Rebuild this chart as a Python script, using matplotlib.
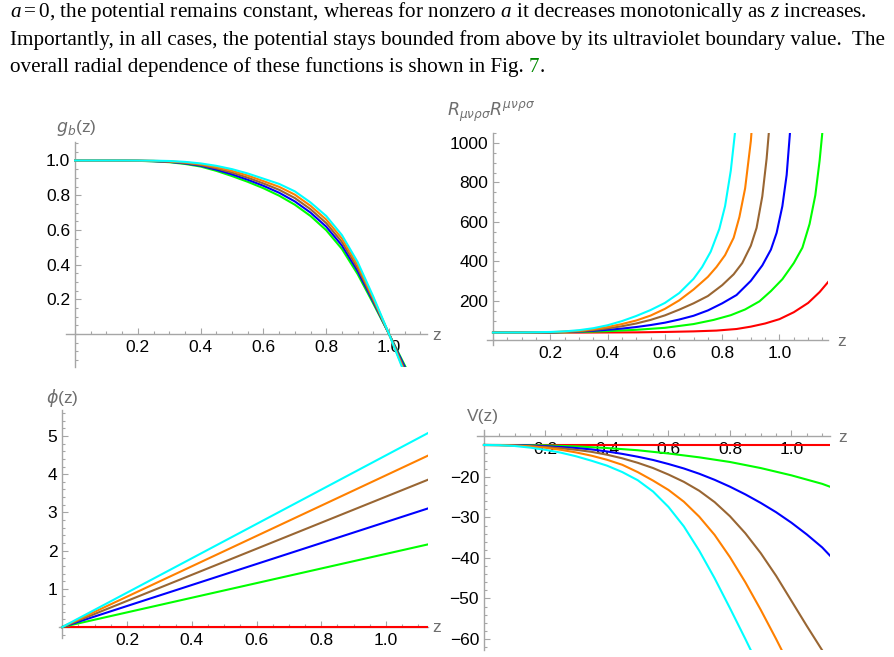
import matplotlib
matplotlib.use("Agg")
import matplotlib.pyplot as plt
from matplotlib.ticker import FixedLocator, MultipleLocator

W, H = 894, 657

# curve colours, in drawing order (a = 0 first)
names = ["red", "green", "blue", "brown", "orange", "cyan"]
colors = ["#ff0000", "#00ff00", "#0000ff", "#996633", "#ff8000", "#00ffff"]

# ---- g_b(z) ----
gb_z = [0, 0.05, 0.1, 0.15, 0.2, 0.25, 0.3, 0.35, 0.4, 0.45, 0.5, 0.55, 0.6, 0.65, 0.7,
        0.75, 0.8, 0.85, 0.9, 0.95, 1.0, 1.05, 1.1]
gb_green = [1.0, 1.0, 1.0, 0.9995, 0.998, 0.995, 0.99, 0.98, 0.965, 0.94, 0.91, 0.877, 0.84, 0.797, 0.745,
            0.68, 0.598, 0.49, 0.345, 0.175, 0.0, -0.18, -0.36]
gb_blue = [1.0, 1.0, 1.0, 0.9996, 0.9984, 0.996, 0.992, 0.983, 0.9695, 0.947, 0.92, 0.889, 0.854, 0.814, 0.764,
           0.6995, 0.6185, 0.51, 0.3625, 0.185, 0.0, -0.19, -0.39]
gb_brown = [1.0, 1.0, 1.0, 0.9997, 0.9988, 0.997, 0.9935, 0.986, 0.974, 0.9545, 0.93, 0.901, 0.8675, 0.831, 0.7835,
            0.719, 0.639, 0.53, 0.38, 0.195, 0.0, -0.205, -0.415]
gb_orange = [1.0, 1.0, 1.0, 0.9999, 0.9992, 0.998, 0.995, 0.989, 0.9785, 0.962, 0.94, 0.913, 0.881, 0.848, 0.803,
             0.7385, 0.6595, 0.55, 0.3975, 0.205, 0.0, -0.22, -0.44]
gb_cyan = [1.0, 1.0, 1.0, 1.0, 0.9995, 0.999, 0.997, 0.992, 0.983, 0.969, 0.95, 0.925, 0.895, 0.865, 0.822,
           0.758, 0.68, 0.57, 0.415, 0.215, 0.0, -0.23, -0.47]

# ---- R_{mu nu rho sigma} R^{mu nu rho sigma} ----
R_red_z = [0, 0.3, 0.5, 0.6, 0.7, 0.78, 0.85, 0.9, 0.95, 1.0, 1.05, 1.1, 1.14, 1.175]
R_red = [40, 40, 41, 43, 46, 50, 58, 70, 86, 108, 143, 190, 245, 305]
R_green_z = [0, 0.2, 0.3, 0.4, 0.5, 0.6, 0.7, 0.77, 0.83, 0.88, 0.93, 0.97, 1.01, 1.05, 1.08,
             1.105, 1.125, 1.14, 1.152, 1.165]
R_green = [40, 40.5, 43, 47, 54, 64, 83, 104, 128, 157, 198, 250, 310, 392, 470,
           590, 735, 910, 1090, 1350]
R_blue_z = [0, 0.1, 0.2, 0.3, 0.35, 0.4, 0.45, 0.5, 0.55, 0.6, 0.65, 0.7, 0.75, 0.8, 0.85,
            0.9, 0.94, 0.97, 0.99, 1.01, 1.025, 1.037, 1.05]
R_blue = [40, 40.1, 41, 45, 49, 54, 60, 68, 78, 90, 106, 125, 152, 188, 230,
          302, 380, 460, 545, 680, 838, 1060, 1350]
R_brown_z = [0, 0.1, 0.2, 0.3, 0.35, 0.4, 0.45, 0.5, 0.55, 0.6, 0.65, 0.7, 0.75, 0.8, 0.84,
             0.87, 0.9, 0.92, 0.94, 0.955, 0.965, 0.975]
R_brown = [40, 40.2, 41.5, 46, 53, 61, 72, 86, 104, 127, 156, 188, 225, 280, 335,
           392, 480, 570, 730, 920, 1090, 1300]
R_orange_z = [0, 0.1, 0.2, 0.25, 0.3, 0.35, 0.4, 0.45, 0.5, 0.55, 0.6, 0.65, 0.7, 0.75, 0.78,
              0.81, 0.84, 0.86, 0.88, 0.9, 0.915]
R_orange = [40, 40.3, 42, 44.5, 49, 57, 68, 83, 101, 126, 160, 203, 258, 322, 372,
            432, 520, 625, 770, 1010, 1300]
R_cyan_z = [0, 0.1, 0.2, 0.25, 0.3, 0.35, 0.4, 0.45, 0.5, 0.55, 0.6, 0.65, 0.7, 0.73, 0.76,
            0.79, 0.81, 0.83, 0.845, 0.86]
R_cyan = [40, 40.5, 43, 46, 52, 62, 77, 98, 124, 154, 190, 240, 312, 372, 450,
          565, 680, 860, 1057, 1300]

# ---- phi(z) ----
phi_z = [0, 1.128]
phi_red = [0, 0]
phi_green = [0, 2.16]
phi_blue = [0, 3.10]
phi_brown = [0, 3.85]
phi_orange = [0, 4.48]
phi_cyan = [0, 5.07]

# ---- V(z) ----
V_red_z = [0, 1.125]
V_red = [-12.1, -12.1]
V_green_z = [0, 0.1, 0.2, 0.3, 0.4, 0.5, 0.6, 0.7, 0.8, 0.9, 1.0, 1.1, 1.125]
V_green = [-12.1, -12.12, -12.2, -12.45, -12.85, -13.4, -14.2, -15.15, -16.3, -17.8, -19.6, -21.7, -22.4]
V_blue_z = [0, 0.05, 0.1, 0.15, 0.2, 0.25, 0.3, 0.35, 0.4, 0.45, 0.5, 0.55, 0.6, 0.65, 0.7,
            0.75, 0.8, 0.85, 0.9, 0.95, 1.0, 1.05, 1.1, 1.125]
V_blue = [-12.1, -12.11, -12.15, -12.25, -12.4, -12.6, -12.85, -13.2, -13.7, -14.3, -15.0, -15.8, -16.8, -17.9, -19.2,
          -20.7, -22.4, -24.3, -26.4, -28.7, -31.3, -34.2, -37.4, -39.4]
V_brown_z = [0, 0.05, 0.1, 0.15, 0.2, 0.25, 0.3, 0.35, 0.4, 0.45, 0.5, 0.55, 0.6, 0.65, 0.7,
             0.75, 0.8, 0.85, 0.9, 0.95, 1.0, 1.05, 1.1, 1.15]
V_brown = [-12.1, -12.13, -12.22, -12.4, -12.6, -12.9, -13.3, -13.8, -14.5, -15.4, -16.5, -17.8, -19.4, -21.2, -23.4,
           -26.2, -29.7, -33.9, -38.8, -44.4, -50.6, -56.8, -62.8, -69.0]
V_orange_z = [0, 0.05, 0.1, 0.15, 0.2, 0.25, 0.3, 0.35, 0.4, 0.45, 0.5, 0.55, 0.6, 0.65, 0.7,
              0.75, 0.8, 0.85, 0.9, 0.95, 1.0]
V_orange = [-12.1, -12.13, -12.25, -12.45, -12.8, -13.3, -13.95, -14.75, -15.75, -17.0, -18.8, -20.9, -23.2, -26.1, -29.8,
            -34.3, -39.8, -46.0, -52.8, -60.0, -67.5]
V_cyan_z = [0, 0.05, 0.1, 0.15, 0.2, 0.25, 0.3, 0.35, 0.4, 0.45, 0.5, 0.55, 0.6, 0.65, 0.7,
            0.75, 0.8, 0.85, 0.9]
V_cyan = [-12.1, -12.15, -12.35, -12.75, -13.3, -14.0, -14.9, -16.0, -17.2, -18.8, -20.8, -23.6, -27.4, -32.2, -38.2,
          -45.0, -52.4, -60.0, -67.8]

# paragraph above the figure
line1 = r"$a = 0$, the potential remains constant, whereas for nonzero $a$ it decreases monotonically as $z$ increases."
line2 = "Importantly, in all cases, the potential stays bounded from above by its ultraviolet boundary value.  The"
line3 = "overall radial dependence of these functions is shown in Fig."

AXIS_GRAY = "#a6a6a6"
LABEL_GRAY = "#6e6e6e"

plt.rcParams["font.family"] = ["Liberation Sans", "DejaVu Sans"]
plt.rcParams["mathtext.rm"] = "Liberation Serif"
plt.rcParams["mathtext.it"] = "Liberation Serif:italic"


def px_axes(fig, left, right, top, bottom, xlim, ylim, y0=0.0):
    ax = fig.add_axes([left / W, 1 - bottom / H, (right - left) / W, (bottom - top) / H])
    ax.set_xlim(*xlim)
    ax.set_ylim(*ylim)
    ax.patch.set_alpha(0)
    ax.spines["top"].set_visible(False)
    ax.spines["right"].set_visible(False)
    ax.spines["left"].set_position(("data", 0))
    ax.spines["bottom"].set_position(("data", y0))
    for s in ("left", "bottom"):
        ax.spines[s].set_color(AXIS_GRAY)
        ax.spines[s].set_linewidth(1.0)
    ax.tick_params(which="both", direction="in", color=AXIS_GRAY, labelsize=12.5, width=0.8)
    ax.tick_params(which="major", length=4.5)
    ax.tick_params(which="minor", length=2.5)
    ax.tick_params(axis="x", pad=4)
    ax.tick_params(axis="y", pad=3.5)
    ax.xaxis.set_major_locator(FixedLocator([0.2, 0.4, 0.6, 0.8, 1.0]))
    ax.xaxis.set_minor_locator(MultipleLocator(0.05))
    ax.xaxis.set_major_formatter(lambda v, p: f"{v:.1f}")
    return ax


def label(fig, x, y, s, **kw):
    fig.text(x / W, 1 - y / H, s, ha="center", va="center", color=LABEL_GRAY,
             fontsize=12.5, math_fontfamily="dejavusans", **kw)


fig = plt.figure(figsize=(W / 100, H / 100), dpi=100)

# g_b(z)
ax1 = px_axes(fig, 66, 426.7, 141.9, 367, (-0.029, 1.12), (-0.19, 1.107))
for c, y in zip(colors[1:], [gb_green, gb_blue, gb_brown, gb_orange, gb_cyan]):
    ax1.plot(gb_z, y, color=c, lw=1.5, zorder=3)
ax1.yaxis.set_major_locator(FixedLocator([0.2, 0.4, 0.6, 0.8, 1.0]))
ax1.yaxis.set_minor_locator(MultipleLocator(0.05))
ax1.yaxis.set_major_formatter(lambda v, p: f"{v:.1f}")
label(fig, 76, 128, r"$g_b$(z)")
label(fig, 437, 335, "z")

# curvature invariant
ax2 = px_axes(fig, 486.7, 828.2, 133.1, 345, (-0.022, 1.17), (-23, 1050))
R_sets = [(R_red_z, R_red), (R_green_z, R_green), (R_blue_z, R_blue),
          (R_brown_z, R_brown), (R_orange_z, R_orange), (R_cyan_z, R_cyan)]
for c, (zz, y) in zip(colors, R_sets):
    ax2.plot(zz, y, color=c, lw=1.5, zorder=3)
ax2.yaxis.set_major_locator(FixedLocator([200, 400, 600, 800, 1000]))
ax2.yaxis.set_minor_locator(MultipleLocator(50))
ax2.yaxis.set_major_formatter(lambda v, p: f"{v:.0f}")
label(fig, 491, 112, r"$R_{\mu\nu\rho\sigma}R^{\mu\nu\rho\sigma}$")
label(fig, 842, 341, "z")

# phi(z)
ax3 = px_axes(fig, 59, 427.5, 410, 638.1, (-0.01, 1.128), (-0.29, 5.68))
for c, y in zip(colors, [phi_red, phi_green, phi_blue, phi_brown, phi_orange, phi_cyan]):
    ax3.plot(phi_z, y, color=c, lw=1.5, zorder=3)
ax3.yaxis.set_major_locator(FixedLocator([1, 2, 3, 4, 5]))
ax3.yaxis.set_minor_locator(MultipleLocator(0.2))
ax3.yaxis.set_major_formatter(lambda v, p: f"{v:.0f}")
label(fig, 62, 398, r"$\phi$(z)")
label(fig, 437, 627, "z")

# V(z)
ax4 = px_axes(fig, 476.6, 829.9, 430.4, 650.3, (-0.024, 1.125), (-62.8, -8.5), y0=-10)
V_sets = [(V_red_z, V_red), (V_green_z, V_green), (V_blue_z, V_blue),
          (V_brown_z, V_brown), (V_orange_z, V_orange), (V_cyan_z, V_cyan)]
for c, (zz, y) in zip(colors, V_sets):
    ax4.plot(zz, y, color=c, lw=1.5, zorder=3)
ax4.yaxis.set_major_locator(FixedLocator([-20, -30, -40, -50, -60]))
ax4.yaxis.set_minor_locator(MultipleLocator(2))
ax4.yaxis.set_major_formatter(lambda v, p: f"\u2212{abs(v):.0f}")
label(fig, 483, 416, "V(z)")
label(fig, 843, 437, "z")

# text of the page above the figure
renderer = fig.canvas.get_renderer()
tkw = dict(family="Liberation Serif", va="baseline", ha="left", color="black", math_fontfamily="custom")
t2 = fig.text(10 / W, 1 - 45 / H, line2, fontsize=14, **tkw)
fs = 14 * 878 / t2.get_window_extent(renderer).width
t2.set_fontsize(fs)
t1 = fig.text(10 / W, 1 - 17 / H, line1, fontsize=fs, **tkw)
t3 = fig.text(10 / W, 1 - 72 / H, line3, fontsize=fs, **tkw)
x7 = t3.get_window_extent(renderer).x1 + fs * 0.25 * 100 / 72
t7 = fig.text(x7 / W, 1 - 72 / H, "7", fontsize=fs, **dict(tkw, color="#008a00"))
x_dot = t7.get_window_extent(renderer).x1
fig.text(x_dot / W, 1 - 72 / H, ".", fontsize=fs, **tkw)

fig.savefig("out.png", dpi=100)
